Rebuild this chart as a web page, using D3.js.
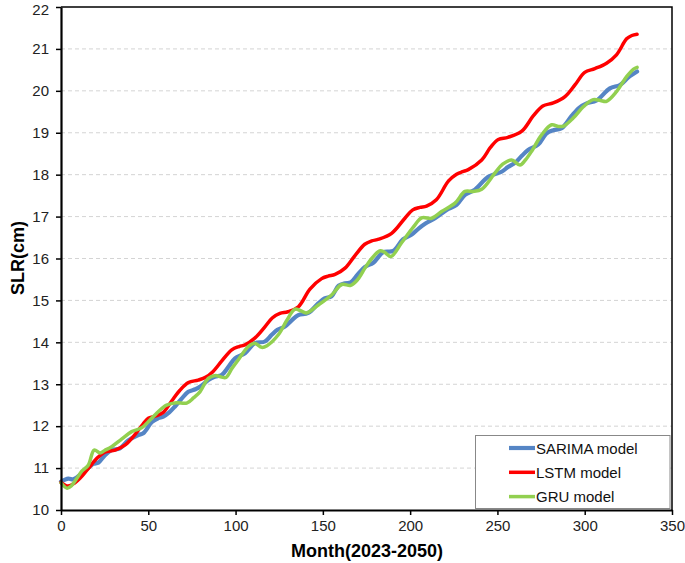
<!DOCTYPE html>
<html>
<head>
<meta charset="utf-8">
<script src="https://cdn.jsdelivr.net/npm/d3@7"></script>
<style>
  html, body { margin: 0; padding: 0; background: #fff; }
  svg { display: block; font-family: Arial, "Liberation Sans", sans-serif; }
</style>
</head>
<body>
<svg id="chart" width="685" height="563"></svg>
<script>
// ---------- data ----------
const xTicks = [0, 50, 100, 150, 200, 250, 300, 350];
const yTicks = [10, 11, 12, 13, 14, 15, 16, 17, 18, 19, 20, 21, 22];

const sarimaMonths = [0, 4.2, 7, 12.8, 18.5, 21.4, 25.2, 29, 33.8, 38.5, 44.3, 47.1, 52.1, 55.7, 58.6, 62, 65.3, 69, 72.9, 77, 80, 84.4, 88, 92, 96, 99.7, 105.4, 111.1, 116.8, 120.7, 124, 128.3, 132, 135.9, 141.6, 147.4, 151, 155, 159, 162.7, 166, 170, 174.1, 178.9, 184.6, 190.3, 196, 200.9, 205, 209, 214.2, 220.9, 226.6, 231.4, 237.1, 244.7, 252.4, 256, 260, 264, 267.6, 273.4, 278, 282, 286.8, 292.5, 297, 301.1, 306.8, 314.4, 320.2, 325, 330];
const sarimaValues = [10.68, 10.75, 10.73, 10.90, 11.10, 11.13, 11.31, 11.43, 11.47, 11.66, 11.79, 11.83, 12.10, 12.19, 12.23, 12.33, 12.47, 12.65, 12.82, 12.88, 12.95, 13.10, 13.18, 13.22, 13.42, 13.62, 13.74, 13.98, 14.02, 14.18, 14.30, 14.38, 14.52, 14.65, 14.70, 14.93, 15.05, 15.10, 15.35, 15.41, 15.43, 15.62, 15.80, 15.90, 16.15, 16.18, 16.46, 16.57, 16.72, 16.84, 16.96, 17.16, 17.28, 17.52, 17.64, 17.95, 18.07, 18.18, 18.28, 18.45, 18.59, 18.72, 18.98, 19.06, 19.11, 19.40, 19.60, 19.70, 19.77, 20.06, 20.14, 20.32, 20.46];

const lstmMonths = [0, 4, 8, 11, 15.6, 21, 25, 31, 37, 42, 47, 50, 54, 58.6, 63.4, 68, 73, 78.6, 83, 87, 92, 97.8, 102, 105.4, 111, 116.8, 121, 125.4, 130, 136, 142.6, 149.3, 153, 157, 162.7, 168.4, 174, 178, 182, 189.4, 197, 201.5, 205.6, 209.4, 215, 222, 226.6, 230, 233.3, 241, 246, 250.5, 256, 263.8, 270.5, 276, 282, 288.7, 294.4, 300, 305.8, 312.5, 318.2, 324, 327, 330];
const lstmValues = [10.66, 10.57, 10.65, 10.76, 10.99, 11.25, 11.38, 11.43, 11.56, 11.78, 12.05, 12.19, 12.24, 12.33, 12.60, 12.85, 13.04, 13.10, 13.17, 13.30, 13.55, 13.82, 13.90, 13.94, 14.10, 14.37, 14.58, 14.69, 14.73, 14.85, 15.27, 15.52, 15.58, 15.62, 15.77, 16.07, 16.34, 16.42, 16.46, 16.60, 16.96, 17.16, 17.22, 17.25, 17.40, 17.85, 18.01, 18.07, 18.12, 18.35, 18.65, 18.84, 18.89, 19.03, 19.40, 19.64, 19.71, 19.86, 20.14, 20.44, 20.53, 20.66, 20.86, 21.24, 21.32, 21.35];

const gruMonths = [0, 3.5, 6, 9, 11.8, 15.6, 19, 22.3, 25, 29, 34.7, 40.5, 46.2, 51, 54.8, 58, 60.5, 66, 72, 76, 79.6, 84.4, 88.5, 92, 94.5, 98, 101.5, 107.3, 111, 115, 118, 124.5, 129.3, 134, 137, 140.5, 147.4, 155, 160.8, 166, 170, 174.1, 178, 182.5, 185, 189, 195, 201.8, 206.6, 212.3, 218, 225.7, 231.4, 236, 241, 248.6, 253, 258.1, 262.9, 266, 269.6, 275.3, 281, 285, 288, 293.4, 299.2, 304.9, 309, 312.5, 318.2, 324, 328, 330];
const gruValues = [10.65, 10.52, 10.58, 10.75, 10.92, 11.07, 11.43, 11.36, 11.42, 11.51, 11.69, 11.87, 11.96, 12.15, 12.31, 12.43, 12.50, 12.56, 12.55, 12.68, 12.82, 13.14, 13.21, 13.17, 13.16, 13.38, 13.58, 13.90, 13.98, 13.88, 13.92, 14.18, 14.52, 14.79, 14.76, 14.70, 14.89, 15.13, 15.38, 15.36, 15.50, 15.77, 16.00, 16.18, 16.16, 16.05, 16.37, 16.75, 16.97, 16.96, 17.12, 17.32, 17.60, 17.60, 17.65, 18.04, 18.25, 18.35, 18.23, 18.35, 18.56, 18.95, 19.19, 19.15, 19.16, 19.35, 19.62, 19.79, 19.77, 19.75, 19.98, 20.34, 20.52, 20.56];

const seriesNames = ["SARIMA model", "LSTM model", "GRU model"];
const seriesColors = ["#5585C5", "#FF0000", "#92D050"];

// ---------- layout ----------
const svg = d3.select("#chart");
const plotL = 61, plotR = 672, plotT = 7, plotB = 510;

const x = d3.scaleLinear().domain([0, 350]).range([plotL, plotR]);
const y = d3.scaleLinear().domain([10, 22]).range([plotB, plotT]);

// gridlines
svg.append("g")
  .selectAll("line")
  .data(yTicks.filter(d => d > 10 && d < 22))
  .join("line")
  .attr("x1", plotL).attr("x2", plotR)
  .attr("y1", d => y(d)).attr("y2", d => y(d))
  .attr("stroke", "#d4d4d4")
  .attr("stroke-width", 1)
  .attr("stroke-dasharray", "4,3");

// frame (top & right)
svg.append("path")
  .attr("d", `M${plotL},${plotT}H${plotR}V${plotB}`)
  .attr("fill", "none")
  .attr("stroke", "#000")
  .attr("stroke-width", 1.5);

// lines
const series = [
  { name: seriesNames[0], color: seriesColors[0], months: sarimaMonths, values: sarimaValues, width: 4.2 },
  { name: seriesNames[1], color: seriesColors[1], months: lstmMonths, values: lstmValues, width: 3.5 },
  { name: seriesNames[2], color: seriesColors[2], months: gruMonths, values: gruValues, width: 3.5 }
];

const line = d3.line()
  .x(d => x(d[0]))
  .y(d => y(d[1]))
  .curve(d3.curveCatmullRom.alpha(0.5));

series.forEach(s => {
  const pts = s.months.map((m, i) => [m, s.values[i]]);
  svg.append("path")
    .datum(pts)
    .attr("fill", "none")
    .attr("stroke", s.color)
    .attr("stroke-width", s.width)
    .attr("stroke-linejoin", "round")
    .attr("stroke-linecap", "round")
    .attr("d", line);
});

// axes
const xAxis = svg.append("g")
  .attr("transform", `translate(0,${plotB})`)
  .call(d3.axisBottom(x).tickValues(xTicks).tickSize(5).tickPadding(5).tickSizeOuter(0));
const yAxis = svg.append("g")
  .attr("transform", `translate(${plotL},0)`)
  .call(d3.axisLeft(y).tickValues(yTicks).tickSize(5).tickPadding(7).tickSizeOuter(0));

[xAxis, yAxis].forEach(g => {
  g.select(".domain").attr("stroke", "#000").attr("stroke-width", 2.2);
  g.selectAll(".tick line").attr("stroke", "#000").attr("stroke-width", 1.5);
  g.selectAll(".tick text")
    .attr("fill", "#222")
    .style("font-size", "15px")
    .style("font-family", "Arial, 'Liberation Sans', sans-serif");
});
// keep the top label ("22") fully inside the picture
yAxis.selectAll(".tick text").filter(d => d === 22).attr("dy", "0.5em");

// axis titles
svg.append("text")
  .attr("x", 367).attr("y", 557)
  .attr("text-anchor", "middle")
  .style("font-size", "18px").style("font-weight", "bold")
  .attr("fill", "#000")
  .text("Month(2023-2050)");

svg.append("text")
  .attr("transform", "translate(24,258) rotate(-90)")
  .attr("text-anchor", "middle")
  .style("font-size", "18px").style("font-weight", "bold")
  .attr("fill", "#000")
  .text("SLR(cm)");

// legend
const lg = svg.append("g");
lg.append("rect")
  .attr("x", 475.5).attr("y", 435.5)
  .attr("width", 194.5).attr("height", 73)
  .attr("fill", "#fff")
  .attr("stroke", "#888")
  .attr("stroke-width", 1);

series.forEach((s, i) => {
  const cy = 448 + i * 24.3;
  lg.append("line")
    .attr("x1", 509).attr("x2", 535)
    .attr("y1", cy).attr("y2", cy)
    .attr("stroke", s.color)
    .attr("stroke-width", s.width);
  lg.append("text")
    .attr("x", 536).attr("y", cy + 5.5)
    .style("font-size", "15px")
    .attr("fill", "#111")
    .text(s.name);
});
</script>
</body>
</html>
